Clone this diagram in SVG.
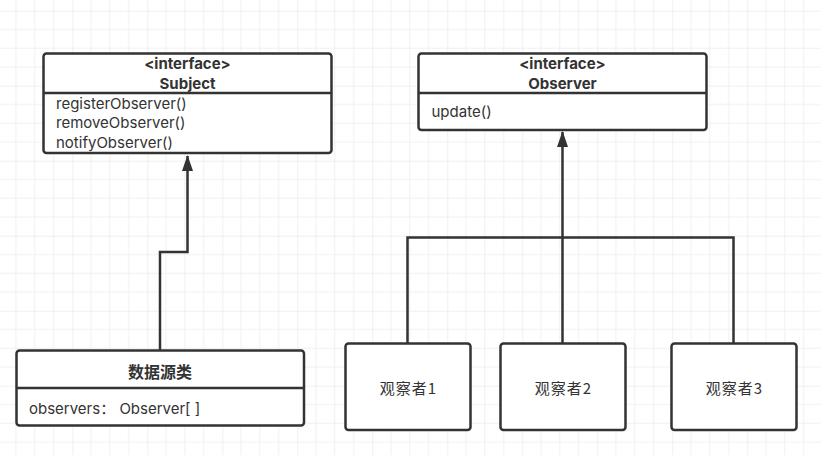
<svg xmlns="http://www.w3.org/2000/svg" width="821" height="455" viewBox="0 0 821 455">
  <defs>
    <pattern id="grid" x="-2.7" y="10.7" width="75" height="75" patternUnits="userSpaceOnUse">
      <path d="M18.75 0V75M37.5 0V75M56.25 0V75M0 18.75H75M0 37.5H75M0 56.25H75" stroke="#f0f0f0" stroke-width="1" fill="none"/>
      <path d="M0 0V75M0 0H75" stroke="#e2e2e2" stroke-width="1" fill="none"/>
    </pattern>
    <marker id="arrow" viewBox="0 0 16 12" refX="15" refY="6" markerWidth="16" markerHeight="12" markerUnits="userSpaceOnUse" orient="auto">
      <path d="M16 6 L0 0.5 L0 11.5 Z" fill="#333"/>
    </marker>
  </defs>
  <style>
    .box { fill: #fff; stroke: #333; stroke-width: 2.5; }
    .div { stroke: #333; stroke-width: 2.5; }
    .edge { fill: none; stroke: #333; stroke-width: 2.5; }
    text { font-family: Inter, "Noto Sans CJK SC", sans-serif; fill: #333; font-size: 15px; }
    .b { font-weight: bold; }
    .c { text-anchor: middle; }
    .cjk { font-family: "Noto Sans CJK SC", sans-serif; font-size: 16px; }
    .obs { font-family: "Noto Sans CJK SC", sans-serif; font-size: 15px; letter-spacing: 1px; }
  </style>
  <rect width="821" height="455" fill="#fff"/>
  <rect width="821" height="455" fill="url(#grid)"/>

  <g id="connectors">
    <path class="edge" d="M160 350 V252 H187.5 V156" marker-end="url(#arrow)"/>
    <path class="edge" d="M562.5 343 V132" marker-end="url(#arrow)"/>
    <path class="edge" d="M407.5 343 V237.5 H733.5 V343"/>
  </g>

  <g id="subject">
    <rect class="box" x="43.5" y="53.5" width="288" height="99.5" rx="3"/>
    <line class="div" x1="43.5" y1="93" x2="331.5" y2="93"/>
    <text class="b c" x="187.5" y="69">&lt;interface&gt;</text>
    <text class="b c" x="187.5" y="88.5">Subject</text>
    <text x="56" y="108.5">registerObserver()</text>
    <text x="56" y="128">removeObserver()</text>
    <text x="56" y="147.5">notifyObserver()</text>
  </g>

  <g id="observer">
    <rect class="box" x="418.5" y="53.5" width="288" height="76.5" rx="3"/>
    <line class="div" x1="418.5" y1="93" x2="706.5" y2="93"/>
    <text class="b c" x="562.5" y="69">&lt;interface&gt;</text>
    <text class="b c" x="562.5" y="88.5">Observer</text>
    <text x="431.5" y="117">update()</text>
  </g>

  <g id="datasource">
    <rect class="box" x="16.5" y="350.5" width="287.5" height="75" rx="3"/>
    <line class="div" x1="16.5" y1="388" x2="304" y2="388"/>
    <text class="b c cjk" x="160" y="377.5">数据源类</text>
    <text x="29" y="413.5">observers： Observer[ ]</text>
  </g>

  <g id="observer1">
    <rect class="box" x="345.5" y="343.5" width="125" height="86.5" rx="3"/>
    <text class="c obs" x="408.5" y="394">观察者1</text>
  </g>
  <g id="observer2">
    <rect class="box" x="500.5" y="343.5" width="125" height="86.5" rx="3"/>
    <text class="c obs" x="563.5" y="394">观察者2</text>
  </g>
  <g id="observer3">
    <rect class="box" x="671.5" y="343.5" width="125" height="86.5" rx="3"/>
    <text class="c obs" x="734.5" y="394">观察者3</text>
  </g>
</svg>
